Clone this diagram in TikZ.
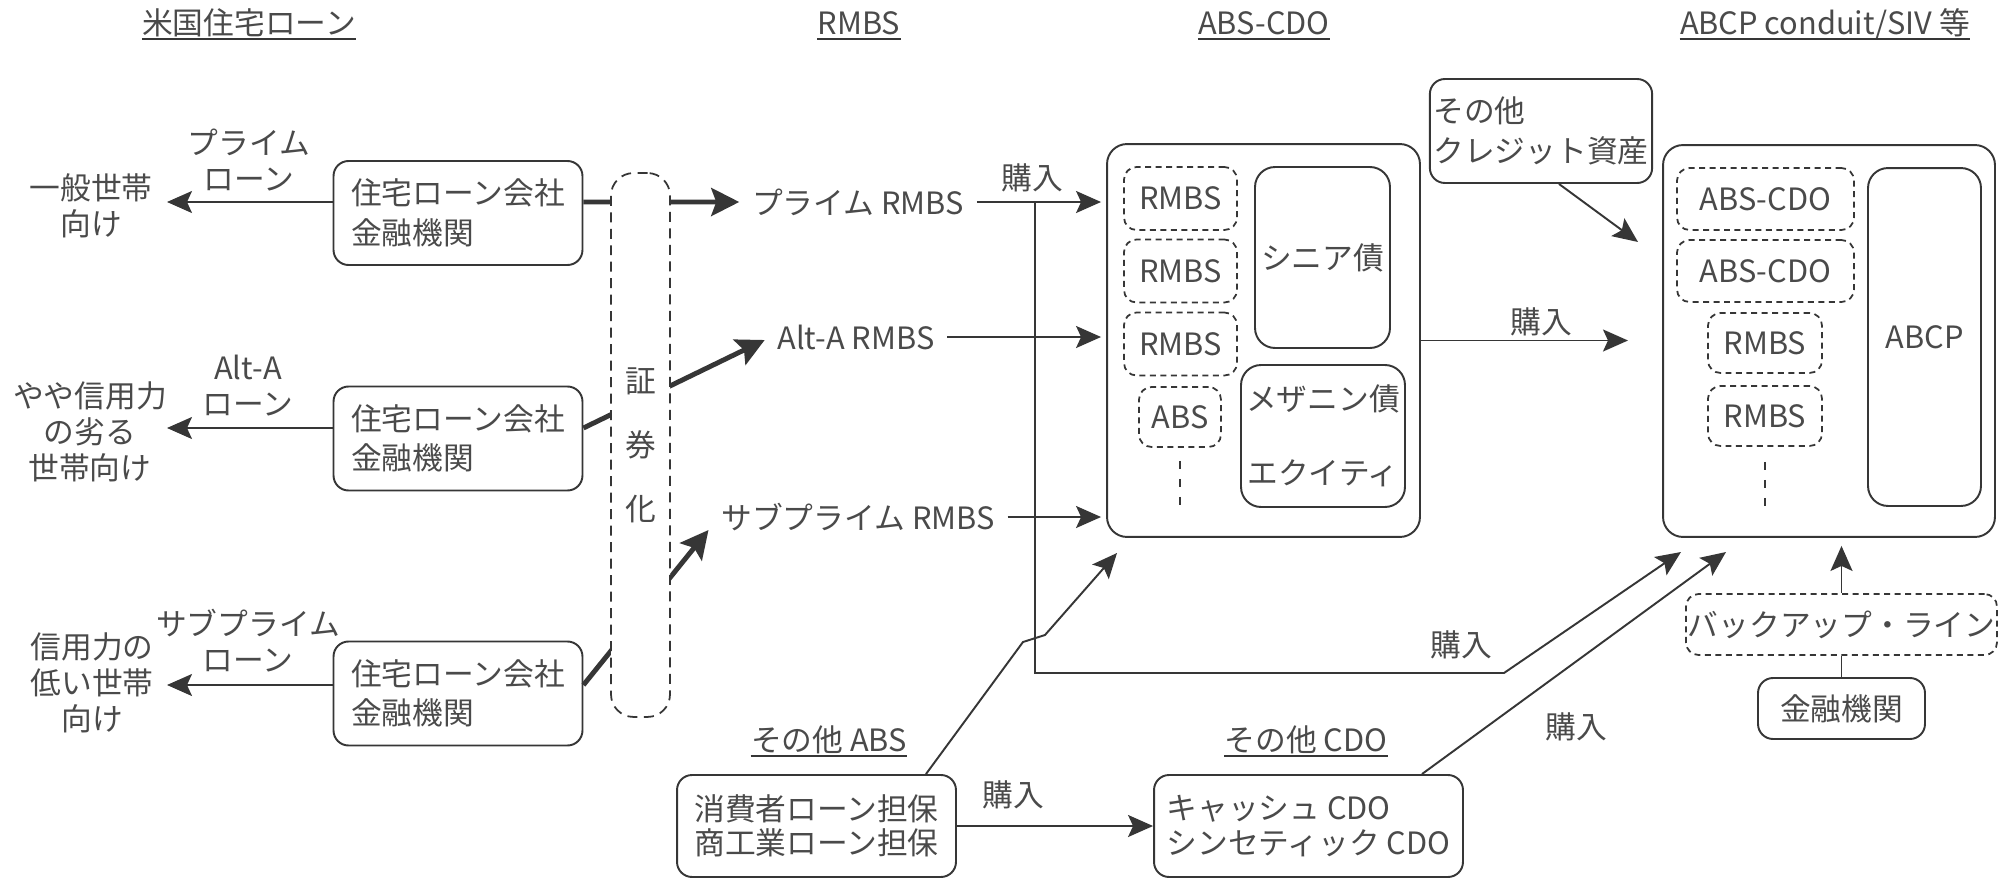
\documentclass[tikz,border=0pt]{standalone}
\usepackage{fontspec}
\newfontfamily\jpfont{Noto Sans CJK JP}
\usetikzlibrary{arrows.meta}
\definecolor{ink}{HTML}{363636}
\definecolor{txt}{HTML}{4A4A4A}

\begin{document}
\begin{tikzpicture}[x=0.02cm, y=-0.02cm, font={\fontsize{17.5}{20.5}\jpfont}, text=txt,
  line/.style={draw=ink, line width=1.1pt},
  arr/.style={line, -{Stealth[length=5mm,width=4.4mm,inset=1mm]}},
  fat/.style={draw=ink, line width=2.8pt, -{Stealth[length=5.6mm,width=5.6mm,inset=1mm]}},
  box/.style={draw=ink, line width=1.1pt, rounded corners=0.3cm, align=left, inner sep=2pt,
    font={\fontsize{17.5}{22.5}\jpfont}},
  dbox/.style={draw=ink, line width=1pt, dash pattern=on 1.2mm off 0.9mm, rounded corners=0.25cm, inner sep=1pt},
  dots/.style={draw=ink, line width=1pt, dash pattern=on 0.16cm off 0.2cm},
  head/.style={inner sep=1pt, inner xsep=0pt, text height=0.85em, text depth=0.15em},
  lab/.style={align=center},
]
\useasboundingbox (0,0) rectangle (2016,879);
% headings
\node[head] (hLoan) at (249,28) {米国住宅ローン};
\node[head] (hRmbs) at (859,28) {RMBS};
\node[head] (hCdo) at (1264,28) {ABS-CDO};
\node[head] (hAbcp) at (1825,28) {ABCP conduit/SIV 等};
\node[head] (hOabs) at (829,745) {その他 ABS};
\node[head] (hOcdo) at (1306,745) {その他 CDO};
\foreach \h in {hLoan,hRmbs,hCdo,hAbcp,hOabs,hOcdo}
  \draw[line] (\h.south west) -- (\h.south east);

% borrowers and lenders
\node[lab] (hh1) at (91,206) {一般世帯\\向け};
\node[lab] (hh2) at (90,432) {やや信用力\\の劣る\\世帯向け};
\node[lab] (hh3) at (92,683) {信用力の\\低い世帯\\向け};
\node[lab] (lPrime) at (249,160) {プライム\\ローン};
\node[lab] (lAlt) at (248,386) {Alt-A\\ローン};
\node[lab] (lSub) at (248,641) {サブプライム\\ローン};
\node[box, minimum width=4.98cm, minimum height=2.08cm] (bank1) at (458,213) {住宅ローン会社\\金融機関};
\node[box, minimum width=4.98cm, minimum height=2.08cm] (bank2) at (458,438.5) {住宅ローン会社\\金融機関};
\node[box, minimum width=4.98cm, minimum height=2.08cm] (bank3) at (458,693.5) {住宅ローン会社\\金融機関};
\coordinate (hhx) at (167,0);
\foreach \b/\s in {bank1/2.2mm, bank2/2.1mm, bank3/1.7mm}
  \draw[arr] ([yshift=\s]\b.west) -- ([yshift=\s]\b.west -| hhx);

% RMBS
\node[inner sep=0.25cm] (rPrime) at (858,202) {プライム RMBS};
\node[inner sep=0.25cm] (rAlt) at (856,337) {Alt-A RMBS};
\node[inner sep=0.25cm] (rSub) at (858,517) {サブプライム RMBS};
\draw[fat] ([yshift=2.2mm]bank1.east) -- (rPrime.west);
\draw[fat] ([yshift=2.1mm]bank2.east) -- ([yshift=-0.06cm]rAlt.west);
\draw[fat] ([yshift=1.7mm]bank3.east) -- ([yshift=-0.26cm]rSub.west);
% securitisation band over the thick lines
\node[draw=ink, line width=1pt, fill=white, dash pattern=on 2mm off 1.3mm, rounded corners=0.45cm,
  minimum width=1.18cm, minimum height=10.88cm, align=center] (sec) at (640.5,445) {証\\[5.6mm]券\\[5.6mm]化};

% ABS-CDO
\node[box, minimum width=6.26cm, minimum height=7.86cm, rounded corners=0.4cm] (cdo) at (1263.5,340.5) {};
\foreach \y/\n in {198.5/1, 271/2, 344/3}
  \node[dbox, minimum width=2.26cm, minimum height=1.26cm] (cr\n) at (1180.5,\y) {RMBS};
\node[dbox, minimum width=1.64cm, minimum height=1.2cm] (cabs) at (1180,417) {ABS};
\draw[dots] ([yshift=-0.26cm]cabs.south) -- ++(0,45);
\node[box, minimum width=2.7cm, minimum height=3.62cm, rounded corners=0.4cm, align=center] (senior) at (1322.5,257.5) {シニア債};
\node[box, minimum width=3.28cm, minimum height=2.84cm, rounded corners=0.4cm, align=center] (mezz) at (1323,436) {メザニン債\\[0.7cm]エクイティ};
\foreach \r in {rPrime, rAlt, rSub}
  \draw[arr, shorten >=0.1cm] (\r.east) -- (\r.east -| cdo.west);
\node (buy1) at (1032,178) {購入};

% ABCP conduit / SIV
\node[box, minimum width=6.64cm, minimum height=7.84cm, rounded corners=0.4cm] (abcp) at (1829,341) {};
\node[dbox, minimum width=3.54cm, minimum height=1.24cm] (aa1) at (1765.5,199) {ABS-CDO};
\node[dbox, minimum width=3.54cm, minimum height=1.24cm] (aa2) at (1765.5,271) {ABS-CDO};
\node[dbox, minimum width=2.28cm, minimum height=1.2cm] (ar1) at (1765,343) {RMBS};
\node[dbox, minimum width=2.28cm, minimum height=1.2cm] (ar2) at (1765,416) {RMBS};
\draw[dots] ([yshift=-0.3cm]ar2.south) -- ++(0,45);
\node[box, minimum width=2.26cm, minimum height=6.76cm, rounded corners=0.4cm, align=center] (abcpPaper) at (1924.5,337) {ABCP};
\node[box, minimum width=4.4cm, minimum height=2.08cm] (credit) at (1541,131) {その他\\クレジット資産};
\coordinate (abcpIn1) at (1638,242);
\coordinate (abcpIn2) at (1628,340.5);
\coordinate (abcpIn3) at (1681,552);
\coordinate (abcpIn4) at (1726,552);
\draw[arr] ([xshift=0.36cm]credit.south) -- (abcpIn1);
\draw[arr] (cdo.east) -- (abcpIn2);
\node (buy2) at (1541,322) {購入};

% liquidity backup
\node[dbox, minimum width=6.22cm, minimum height=1.22cm] (backup) at (1841.5,624.5) {バックアップ・ライン};
\node[box, minimum width=3.34cm, minimum height=1.22cm] (bank4) at (1841.5,708.5) {金融機関};
\draw[arr, shorten >=0.16cm] (backup.north) -- (backup.north |- abcp.south);
\draw[line] (bank4.north) -- (backup.south);

% other ABS / other CDO
\node[box, minimum width=5.58cm, minimum height=2.04cm, font={\fontsize{17.5}{19.5}\jpfont}] (oabs) at (816.5,826) {消費者ローン担保\\商工業ローン担保};
\node[box, minimum width=6.18cm, minimum height=2.04cm, font={\fontsize{17.5}{19.5}\jpfont}] (ocdo) at (1308.5,826) {キャッシュ CDO\\シンセティック CDO};
\draw[arr] (oabs.east) -- (oabs.east -| ocdo.west);
\node (buy5) at (1013,795) {購入};
\coordinate (cdoIn) at (1117,553);
\draw[arr] ([xshift=2.19cm]oabs.north) -- (1023,642) -- (1045,635) -- (cdoIn);
\draw[arr] ([xshift=2.27cm]ocdo.north) -- (abcpIn4);

% purchases routed to the conduit
\coordinate (jn) at (1035,202);
\draw[arr] (jn) -- (1035,673) -- (1504,673) -- (abcpIn3);
\node (buy3) at (1461,645) {購入};
\node (buy4) at (1576,727) {購入};
\end{tikzpicture}
\end{document}
